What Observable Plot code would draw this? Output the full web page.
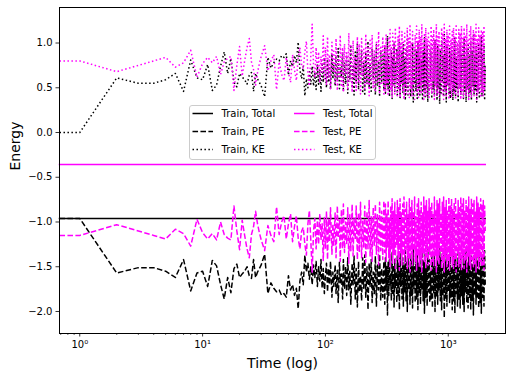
<!DOCTYPE html>
<html><head><meta charset="utf-8">
<script src="https://cdn.jsdelivr.net/npm/d3@7"></script>
<script src="https://cdn.jsdelivr.net/npm/@observablehq/plot@0.6"></script>
<style>
body{margin:0;background:#fff;}
#wrap{position:relative;width:512px;height:379px;font-family:"DejaVu Sans",sans-serif;}
</style></head><body><div id="wrap"></div>
<script>
// ---- data ----
const time = [
0,1,2,3,4,5,6,7,8,9,10,11,12,13,14,15,16,17,18,19,20,21,22,23,24,25,26,27,28,29,30,
32,34,36,38,40,42,44,46,48,50,52,54,56,58,60,62,64,66,68,70,72,74,76,78,80,82,84,86,88,90,92,94,96,98,
100,102,104,106,108,110,113,115,117,120,
122,125,127,130,132,135,138,140,143,146,
149,152,155,158,161,165,168,171,175,178,
182,186,189,193,197,201,205,209,213,218,
222,227,231,236,240,245,250,255,260,265,
271,276,282,287,293,299,
304,308,312,316,320,324,328,332,336,340,
344,349,353,358,362,367,371,376,381,385,
390,395,400,405,410,415,420,426,431,436,
442,447,453,458,464,470,476,482,488,494,
500,506,512,519,525,532,538,545,552,559,
566,573,580,587,594,602,609,617,624,632,
640,648,656,664,673,681,690,698,707,716,
725,734,743,752,761,771,780,790,800,810,
820,830,841,851,862,873,883,894,906,917,
928,940,951,963,975,987,1000,1012,1025,1038,
1051,1064,1077,1090,1104,1118,1132,1146,1160,1175,
1189,1204,1219,1234,1250,1265,1281,1297,1313,1330,
1346,1363,1380,1397,1415,1432,1450,1468,1487,1505,
1524,1543,1562,1582,1602,1622,1642,1662,1683,1704,
1725,1747,1769,1791,1813,1836,1859,1882,1905,1929,
1953,1977,2000];

const trainPE = [
-0.96,-0.96,-1.57,-1.51,-1.51,-1.55,-1.62,-1.42,-1.77,-1.57,-1.55,-1.72,-1.43,-1.49,-1.70,-1.86,-1.62,-1.79,-1.52,-1.47,-1.62,-1.58,-1.55,-1.50,-1.60,-1.63,-1.42,-1.62,-1.56,-1.52,-1.48,
-1.36,-1.80,-1.68,-1.74,-1.78,-1.76,-1.82,-1.80,-1.84,-1.60,-1.76,-1.70,-1.82,-1.74,-1.97,-1.66,-1.56,-1.70,-1.37,-1.56,-1.46,-1.64,-1.50,-1.70,-1.48,-1.62,-1.44,-1.72,-1.50,-1.66,-1.42,-1.74,-1.52,-1.80,
-1.60,-1.46,-1.78,-1.52,-1.70,-1.44,-1.84,-1.56,-1.72,-1.48,
-1.80,-1.54,-1.90,-1.45,-1.68,-1.58,-1.86,-1.42,-1.74,-1.50,
-1.82,-1.40,-1.76,-1.55,-1.92,-1.46,-1.70,-1.38,-1.86,-1.52,
-1.95,-1.44,-1.78,-1.60,-1.88,-1.40,-1.74,-1.37,-1.84,-1.50,
-1.98,-1.46,-1.72,-1.42,-1.90,-1.56,-1.80,-1.38,-1.94,-1.48,
-1.76,-1.36,-1.88,-1.52,-1.84,-1.44,
-1.92,-1.40,-1.76,-1.50,-2.04,-1.44,-1.82,-1.36,-1.70,-1.58,
-1.88,-1.34,-1.80,-1.48,-1.95,-1.42,-1.74,-1.55,-1.90,-1.38,
-1.84,-1.46,-1.98,-1.35,-1.72,-1.52,-1.86,-1.40,-1.94,-1.48,
-1.78,-1.32,-1.88,-1.45,-2.00,-1.38,-1.76,-1.54,-1.92,-1.36,
-1.82,-1.44,-1.96,-1.30,-1.74,-1.50,-1.90,-1.42,-1.86,-1.34,
-1.98,-1.46,-1.80,-1.38,-1.92,-1.52,-1.76,-1.32,-1.88,-1.44,
-2.02,-1.36,-1.84,-1.48,-1.94,-1.30,-1.78,-1.42,-1.90,-1.56,
-1.86,-1.34,-1.96,-1.44,-1.80,-1.38,-2.00,-1.50,-1.84,-1.32,
-1.92,-1.46,-1.76,-1.28,-1.88,-1.40,-1.98,-1.52,-1.82,-1.36,
-2.07,-1.44,-1.86,-1.30,-1.94,-1.48,-1.78,-1.38,-1.90,-1.34,
-1.84,-1.50,-1.98,-1.32,-1.88,-1.42,-2.02,-1.36,-1.80,-1.46,
-1.94,-1.30,-1.86,-1.44,-1.96,-1.38,-1.82,-1.52,-1.92,-1.34,
-2.00,-1.42,-1.78,-1.30,-1.90,-1.46,-1.96,-1.36,-1.84,-1.40,
-1.98,-1.32,-1.88,-1.48,-2.04,-1.38,-1.82,-1.44,-1.92,-1.30,
-1.86,-1.42,-1.96,-1.34,-1.90,-1.50,-2.02,-1.36,-1.84,-1.40,
-1.94,-1.32,-1.70];

const trainKE = [
0.00,0.00,0.61,0.55,0.55,0.59,0.66,0.46,0.81,0.61,0.59,0.76,0.47,0.53,0.74,0.90,0.66,0.83,0.56,0.51,0.66,0.62,0.59,0.54,0.64,0.67,0.46,0.66,0.60,0.56,0.52,
0.40,0.84,0.72,0.78,0.82,0.80,0.86,0.84,0.88,0.64,0.80,0.74,0.86,0.78,1.01,0.70,0.60,0.74,0.41,0.60,0.50,0.68,0.54,0.74,0.52,0.66,0.48,0.76,0.54,0.70,0.46,0.78,0.56,0.84,
0.64,0.50,0.82,0.56,0.74,0.48,0.88,0.60,0.76,0.52,
0.84,0.58,0.94,0.49,0.72,0.62,0.90,0.46,0.78,0.54,
0.86,0.44,0.80,0.59,0.96,0.50,0.74,0.42,0.90,0.56,
0.99,0.48,0.82,0.64,0.92,0.44,0.78,0.41,0.88,0.54,
1.02,0.50,0.76,0.46,0.94,0.60,0.84,0.42,0.98,0.52,
0.80,0.40,0.92,0.56,0.88,0.48,
0.96,0.44,0.80,0.54,1.08,0.48,0.86,0.40,0.74,0.62,
0.92,0.38,0.84,0.52,0.99,0.46,0.78,0.59,0.94,0.42,
0.88,0.50,1.02,0.39,0.76,0.56,0.90,0.44,0.98,0.52,
0.82,0.36,0.92,0.49,1.04,0.42,0.80,0.58,0.96,0.40,
0.86,0.48,1.00,0.34,0.78,0.54,0.94,0.46,0.90,0.38,
1.02,0.50,0.84,0.42,0.96,0.56,0.80,0.36,0.92,0.48,
1.06,0.40,0.88,0.52,0.98,0.34,0.82,0.46,0.94,0.60,
0.90,0.38,1.00,0.48,0.84,0.42,1.04,0.54,0.88,0.36,
0.96,0.50,0.80,0.32,0.92,0.44,1.02,0.56,0.86,0.40,
1.11,0.48,0.90,0.34,0.98,0.52,0.82,0.42,0.94,0.38,
0.88,0.54,1.02,0.36,0.92,0.46,1.06,0.40,0.84,0.50,
0.98,0.34,0.90,0.48,1.00,0.42,0.86,0.56,0.96,0.38,
1.04,0.46,0.82,0.34,0.94,0.50,1.00,0.40,0.88,0.44,
1.02,0.36,0.92,0.52,1.08,0.42,0.86,0.48,0.96,0.34,
0.90,0.46,1.00,0.38,0.94,0.54,1.06,0.40,0.88,0.44,
0.98,0.36,0.74];

const testPE = [
-1.15,-1.15,-1.03,-1.10,-1.15,-1.19,-1.08,-1.13,-1.27,-0.97,-1.12,-1.19,-1.13,-1.20,-1.00,-1.14,-1.18,-1.20,-0.82,-1.10,-1.31,-0.98,-1.15,-1.30,-1.40,-1.14,-1.05,-0.88,-1.02,-1.12,-1.20,
-1.32,-1.04,-1.15,-1.22,-0.83,-1.14,-1.00,-0.93,-1.19,-1.02,-0.91,-1.22,-1.05,-0.93,-1.18,-1.30,-1.10,-1.06,-1.25,-1.37,-1.02,-0.87,-1.20,-1.56,-1.10,-0.96,-1.30,-0.98,-1.25,-0.91,-1.20,-1.02,-1.43,-0.95,
-1.30,-0.88,-1.42,-0.96,-1.22,-0.84,-1.36,-1.02,-1.26,-0.90,
-1.40,-0.82,-1.18,-0.98,-1.44,-0.86,-1.30,-0.80,-1.34,-1.00,
-1.24,-0.84,-1.46,-0.92,-1.32,-0.80,-1.38,-0.96,-1.20,-0.82,
-1.42,-0.90,-1.34,-0.78,-1.40,-0.98,-1.28,-0.82,-1.45,-0.88,
-1.30,-0.76,-1.38,-0.94,-1.44,-0.84,-1.26,-0.80,-1.36,-0.92,
-1.48,-0.78,-1.32,-0.88,-1.42,-0.76,
-1.34,-0.80,-1.44,-0.90,-1.28,-0.76,-1.40,-0.96,-1.50,-0.82,
-1.30,-0.74,-1.46,-0.88,-1.36,-0.78,-1.52,-0.92,-1.26,-0.76,
-1.42,-0.84,-1.54,-0.74,-1.34,-0.90,-1.48,-0.80,-1.38,-0.72,
-1.46,-0.86,-1.30,-0.78,-1.52,-0.92,-1.40,-0.74,-1.56,-0.84,
-1.36,-0.76,-1.48,-0.88,-1.32,-0.72,-1.44,-0.94,-1.54,-0.80,
-1.38,-0.74,-1.50,-0.86,-1.42,-0.78,-1.56,-0.90,-1.34,-0.72,
-1.46,-0.82,-1.52,-0.76,-1.40,-0.88,-1.48,-0.74,-1.36,-0.84,
-1.54,-0.78,-1.44,-0.92,-1.50,-0.72,-1.38,-0.86,-1.56,-0.76,
-1.42,-0.80,-1.48,-0.74,-1.34,-0.90,-1.52,-0.78,-1.46,-0.72,
-1.56,-0.84,-1.40,-0.76,-1.50,-0.88,-1.44,-0.72,-1.54,-0.82,
-1.38,-0.74,-1.48,-0.86,-1.52,-0.78,-1.42,-0.72,-1.56,-0.90,
-1.36,-0.76,-1.50,-0.84,-1.46,-0.72,-1.54,-0.80,-1.40,-0.74,
-1.52,-0.88,-1.44,-0.76,-1.56,-0.82,-1.38,-0.72,-1.48,-0.86,
-1.54,-0.74,-1.42,-0.80,-1.50,-0.76,-1.46,-0.88,-1.56,-0.72,
-1.40,-0.78,-1.52,-0.84,-1.44,-0.74,-1.50,-0.80,-1.48,-0.76,
-1.54,-0.82,-1.10];

const testKE = [
0.80,0.80,0.68,0.75,0.80,0.84,0.73,0.78,0.92,0.62,0.77,0.84,0.78,0.85,0.65,0.79,0.83,0.85,0.47,0.75,0.96,0.63,0.80,0.95,1.05,0.79,0.70,0.53,0.67,0.77,0.85,
0.97,0.69,0.80,0.87,0.48,0.79,0.65,0.58,0.84,0.67,0.56,0.87,0.70,0.58,0.83,0.95,0.75,0.71,0.90,1.02,0.67,0.52,0.85,1.21,0.75,0.61,0.95,0.63,0.90,0.56,0.85,0.67,1.08,0.60,
0.95,0.53,1.07,0.61,0.87,0.49,1.01,0.67,0.91,0.55,
1.05,0.47,0.83,0.63,1.09,0.51,0.95,0.45,0.99,0.65,
0.89,0.49,1.11,0.57,0.97,0.45,1.03,0.61,0.85,0.47,
1.07,0.55,0.99,0.43,1.05,0.63,0.93,0.47,1.10,0.53,
0.95,0.41,1.03,0.59,1.09,0.49,0.91,0.45,1.01,0.57,
1.13,0.43,0.97,0.53,1.07,0.41,
0.99,0.45,1.09,0.55,0.93,0.41,1.05,0.61,1.15,0.47,
0.95,0.39,1.11,0.53,1.01,0.43,1.17,0.57,0.91,0.41,
1.07,0.49,1.19,0.39,0.99,0.55,1.13,0.45,1.03,0.37,
1.11,0.51,0.95,0.43,1.17,0.57,1.05,0.39,1.21,0.49,
1.01,0.41,1.13,0.53,0.97,0.37,1.09,0.59,1.19,0.45,
1.03,0.39,1.15,0.51,1.07,0.43,1.21,0.55,0.99,0.37,
1.11,0.47,1.17,0.41,1.05,0.53,1.13,0.39,1.01,0.49,
1.19,0.43,1.09,0.57,1.15,0.37,1.03,0.51,1.21,0.41,
1.07,0.45,1.13,0.39,0.99,0.55,1.17,0.43,1.11,0.37,
1.21,0.49,1.05,0.41,1.15,0.53,1.09,0.37,1.19,0.47,
1.03,0.39,1.13,0.51,1.17,0.43,1.07,0.37,1.21,0.55,
1.01,0.41,1.15,0.49,1.11,0.37,1.19,0.45,1.05,0.39,
1.17,0.53,1.09,0.41,1.21,0.47,1.03,0.37,1.13,0.51,
1.19,0.39,1.07,0.45,1.15,0.41,1.11,0.53,1.21,0.37,
1.05,0.43,1.17,0.49,1.09,0.39,1.15,0.45,1.13,0.41,
1.19,0.47,0.75];

const totalTime = [0, 2000];
const trainTotal = [-0.96, -0.96];
const testTotal = [-0.357, -0.357];

const yTicks = [-2.0, -1.5, -1.0, -0.5, 0.0, 0.5, 1.0];
const xTicks = [1, 10, 100, 1000];
const xTickLabels = ["10⁰", "10¹", "10²", "10³"];
const xMinorTicks = [0.7,0.8,0.9,2,3,4,5,6,7,8,9,20,30,40,50,60,70,80,90,200,300,400,500,600,700,800,900,2000];
const seriesNames = ["Train, Total", "Train, PE", "Train, KE", "Test, Total", "Test, PE", "Test, KE"];

// ---- checks ----
for (const [n, a] of [["trainPE", trainPE], ["trainKE", trainKE], ["testPE", testPE], ["testKE", testKE]]) {
  if (a.length !== time.length) throw new Error(n + " length " + a.length + " vs " + time.length);
}

// ---- styles ----
const BLACK = "black", MAG = "#ff00ff";
const DASH = "5.55,2.4", DOT = "1.5,2.475";
const styleOf = [
  {stroke: BLACK, dash: null}, {stroke: BLACK, dash: DASH}, {stroke: BLACK, dash: DOT},
  {stroke: MAG, dash: null}, {stroke: MAG, dash: DASH}, {stroke: MAG, dash: DOT}
];

const rows = (ts, vs) => ts.map((t, i) => ({t, v: vs[i]}));
const seriesData = [
  rows(totalTime, trainTotal), rows(time, trainPE), rows(time, trainKE),
  rows(totalTime, testTotal), rows(time, testPE), rows(time, testKE)
];

const fmtY = d => d.toFixed(1).replace("-", "\u2212");

const lineMarks = seriesData.map((data, i) => Plot.line(data, {
  x: "t", y: "v", stroke: styleOf[i].stroke, strokeWidth: 1.5,
  strokeDasharray: styleOf[i].dash || undefined,
  strokeLinecap: styleOf[i].dash ? "butt" : "square",
  strokeLinejoin: "round"
}));

const chart = Plot.plot({
  width: 512, height: 379,
  marginLeft: 59, marginRight: 7, marginTop: 7, marginBottom: 46,
  style: {fontFamily: "DejaVu Sans", fontSize: "10px", background: "white", color: "black"},
  x: {type: "log", domain: [0.684, 2924], clamp: true},
  y: {domain: [-2.246, 1.397]},
  marks: [
    ...lineMarks,
    Plot.axisX({ticks: xMinorTicks, tickSize: 2, tickFormat: () => "", label: null, strokeWidth: 0.6}),
    Plot.axisX({ticks: xTicks, tickSize: 3.5, tickPadding: 3.5, tickFormat: d => xTickLabels[xTicks.indexOf(d)], label: null, strokeWidth: 0.8}),
    Plot.axisY({ticks: yTicks, tickSize: 3.5, tickPadding: 3.5, tickFormat: fmtY, label: null, strokeWidth: 0.8}),
    Plot.frame({stroke: "black", strokeWidth: 1}),
    Plot.text(["Time (log)"], {frameAnchor: "bottom", dy: 30, lineAnchor: "middle", fontSize: 14}),
    Plot.text(["Energy"], {frameAnchor: "left", dx: -44, rotate: -90, lineAnchor: "middle", fontSize: 14})
  ]
});

const wrap = document.getElementById("wrap");
wrap.appendChild(chart);

// ---- legend (overlay inside the axes, like matplotlib) ----
const legendPos = [[0, 0], [0, 1], [0, 2], [1, 0], [1, 1], [1, 2]];
const NS = "http://www.w3.org/2000/svg";
const lg = document.createElementNS(NS, "svg");
lg.setAttribute("width", 187);
lg.setAttribute("height", 55);
lg.style.position = "absolute";
lg.style.left = "189px";
lg.style.top = "105px";
let html = `<rect x="0.5" y="0.5" width="186" height="54" rx="2.5" fill="white" fill-opacity="0.8" stroke="#cccccc" stroke-width="1"/>`;
seriesNames.forEach((name, i) => {
  const [c, r] = legendPos[i];
  const x0 = c === 0 ? 3.5 : 105;
  const y = 8.5 + r * 18;
  const s = styleOf[i];
  html += `<line x1="${x0}" x2="${x0 + 20.5}" y1="${y}" y2="${y}" stroke="${s.stroke}" stroke-width="1.5" ${s.dash ? `stroke-dasharray="${s.dash}"` : ""} stroke-linecap="butt"/>`;
  html += `<text x="${x0 + 29}" y="${y}" dy="0.35em" font-family="DejaVu Sans" font-size="10" fill="black">${name}</text>`;
});
lg.innerHTML = html;
wrap.appendChild(lg);
</script></body></html>
